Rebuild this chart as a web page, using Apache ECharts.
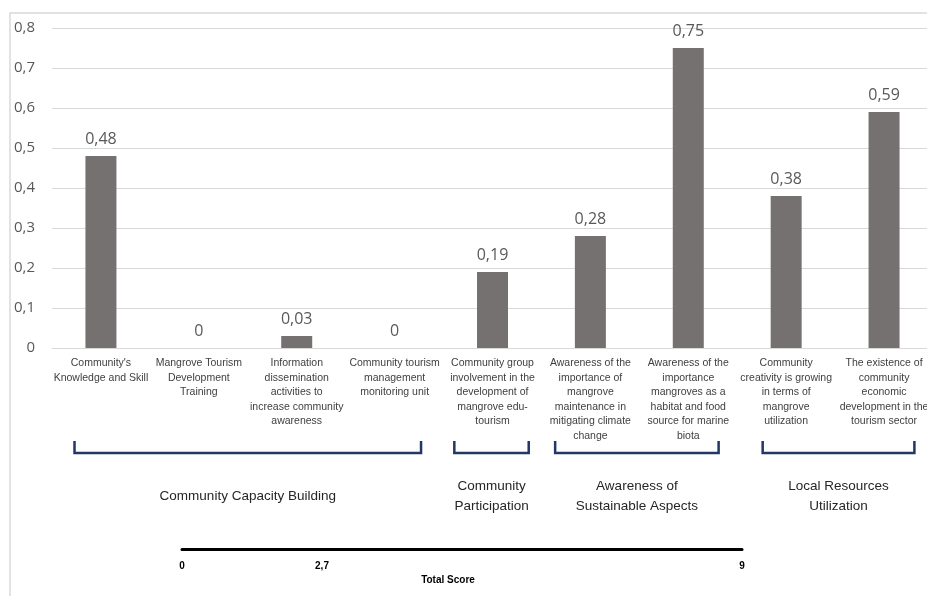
<!DOCTYPE html>
<html>
<head>
<meta charset="utf-8">
<script src="https://cdn.jsdelivr.net/npm/echarts@6/dist/echarts.min.js"></script>
<style>
  html, body { margin: 0; padding: 0; background: #fff; }
  #chart { width: 927px; height: 596px; }
</style>
</head>
<body>
<div id="chart"></div>
<script>
// data
const categories = [
  "Community's\nKnowledge and Skill",
  'Mangrove Tourism\nDevelopment\nTraining',
  'Information\ndissemination\nactivities to\nincrease community\nawareness',
  'Community tourism\nmanagement\nmonitoring unit',
  'Community group\ninvolvement in the\ndevelopment of\nmangrove edu-\ntourism',
  'Awareness of the\nimportance of\nmangrove\nmaintenance in\nmitigating climate\nchange',
  'Awareness of the\nimportance\nmangroves as a\nhabitat and food\nsource for marine\nbiota',
  'Community\ncreativity is growing\nin terms of\nmangrove\nutilization',
  'The existence of\ncommunity\neconomic\ndevelopment in the\ntourism sector'
]
const scores = [0.48, 0, 0.03, 0, 0.19, 0.28, 0.75, 0.38, 0.59]
const yTicks = [0, 0.1, 0.2, 0.3, 0.4, 0.5, 0.6, 0.7, 0.8]
const groupNames = [
  'Community Capacity Building',
  'Community\nParticipation',
  'Awareness of\nSustainable Aspects',
  'Local Resources\nUtilization'
]
const groupFirst = [0, 4, 5, 7]
const groupLast = [3, 4, 6, 8]
const totalScoreTicks = [0, 2.7, 9]
const totalScoreMax = 9

// bracket overhang past the first/last bar, in category widths
const bracketPad = [[0.27, 0.27], [0.39, 0.37], [0.36, 0.31], [0.24, 0.31]]

const comma = v => (v === 0 ? '0' : String(+v.toFixed(2)).replace('.', ','))

const chart = echarts.init(document.getElementById('chart'))

chart.setOption({
  animation: false,
  grid: [
    { left: 52, top: 28, width: 881, height: 320, outerBoundsMode: 'none' },
    { left: 182, top: 548, width: 560, height: 1, outerBoundsMode: 'none' }
  ],
  xAxis: [{
    type: 'category',
    data: categories,
    axisLine: { lineStyle: { color: '#d9d9d9', width: 1 } },
    axisTick: { show: false },
    axisLabel: {
      interval: 0,
      margin: 8,
      fontFamily: 'Liberation Sans',
      fontSize: 10.5,
      lineHeight: 14.5,
      color: '#404040'
    }
  }, {
    type: 'value',
    gridIndex: 1,
    min: 0,
    max: totalScoreMax,
    axisLine: { show: true, lineStyle: { color: '#000', width: 3 } },
    axisTick: { show: false },
    splitLine: { show: false },
    axisLabel: {
      customValues: totalScoreTicks,
      // the reference draws the middle mark left of its true spot
      formatter: v => (v > 0 && v < totalScoreMax ? '{mid|' + comma(v) + '}' : comma(v)),
      rich: { mid: { padding: [0, 56, 0, 0], fontFamily: 'Liberation Sans', fontWeight: 'bold', fontSize: 10, color: '#000' } },
      margin: 12,
      fontFamily: 'Liberation Sans',
      fontWeight: 'bold',
      fontSize: 10,
      color: '#000'
    },
    name: 'Total Score',
    nameLocation: 'middle',
    nameGap: 26,
    nameTextStyle: {
      fontFamily: 'Liberation Sans',
      fontWeight: 'bold',
      fontSize: 10,
      color: '#000',
      padding: [0, 28, 0, 0]
    }
  }],
  yAxis: [{
    type: 'value',
    min: yTicks[0],
    max: yTicks[yTicks.length - 1],
    interval: 0.1,
    axisLine: { show: false },
    axisTick: { show: false },
    axisLabel: {
      margin: 17,
      formatter: comma,
      fontFamily: 'Open Sans',
      fontSize: 15,
      color: '#595959'
    },
    splitLine: { lineStyle: { color: '#d9d9d9', width: 1 } }
  }, {
    type: 'value',
    gridIndex: 1,
    show: false
  }],
  series: [{
    type: 'bar',
    data: scores,
    barWidth: 31,
    itemStyle: { color: '#767171' },
    label: {
      show: true,
      position: 'top',
      distance: 9,
      formatter: p => comma(p.value),
      fontFamily: 'Open Sans',
      fontSize: 16,
      color: '#595959'
    }
  }]
})

// brackets and group names under the category labels
const band = chart.convertToPixel({ xAxisIndex: 0 }, 1) - chart.convertToPixel({ xAxisIndex: 0 }, 0)
const graphics = [{
  type: 'rect',
  shape: { x: 10, y: 13, width: 960, height: 640 },
  style: { fill: null, stroke: '#d9d9d9', lineWidth: 1.5 },
  silent: true
}]
groupNames.forEach((name, i) => {
  const x1 = chart.convertToPixel({ xAxisIndex: 0 }, groupFirst[i]) - bracketPad[i][0] * band
  const x2 = chart.convertToPixel({ xAxisIndex: 0 }, groupLast[i]) + bracketPad[i][1] * band
  graphics.push({
    type: 'polyline',
    shape: { points: [[x1, 441], [x1, 453], [x2, 453], [x2, 441]] },
    style: { stroke: '#1f3864', lineWidth: 2.5, fill: null },
    silent: true
  })
  graphics.push({
    type: 'text',
    x: (x1 + x2) / 2,
    y: 496,
    style: {
      text: name,
      align: 'center',
      verticalAlign: 'middle',
      fontFamily: 'Liberation Sans',
      fontSize: 13.5,
      lineHeight: 20,
      fill: '#262626'
    },
    silent: true
  })
})
chart.setOption({ graphic: graphics })
</script>
</body>
</html>
